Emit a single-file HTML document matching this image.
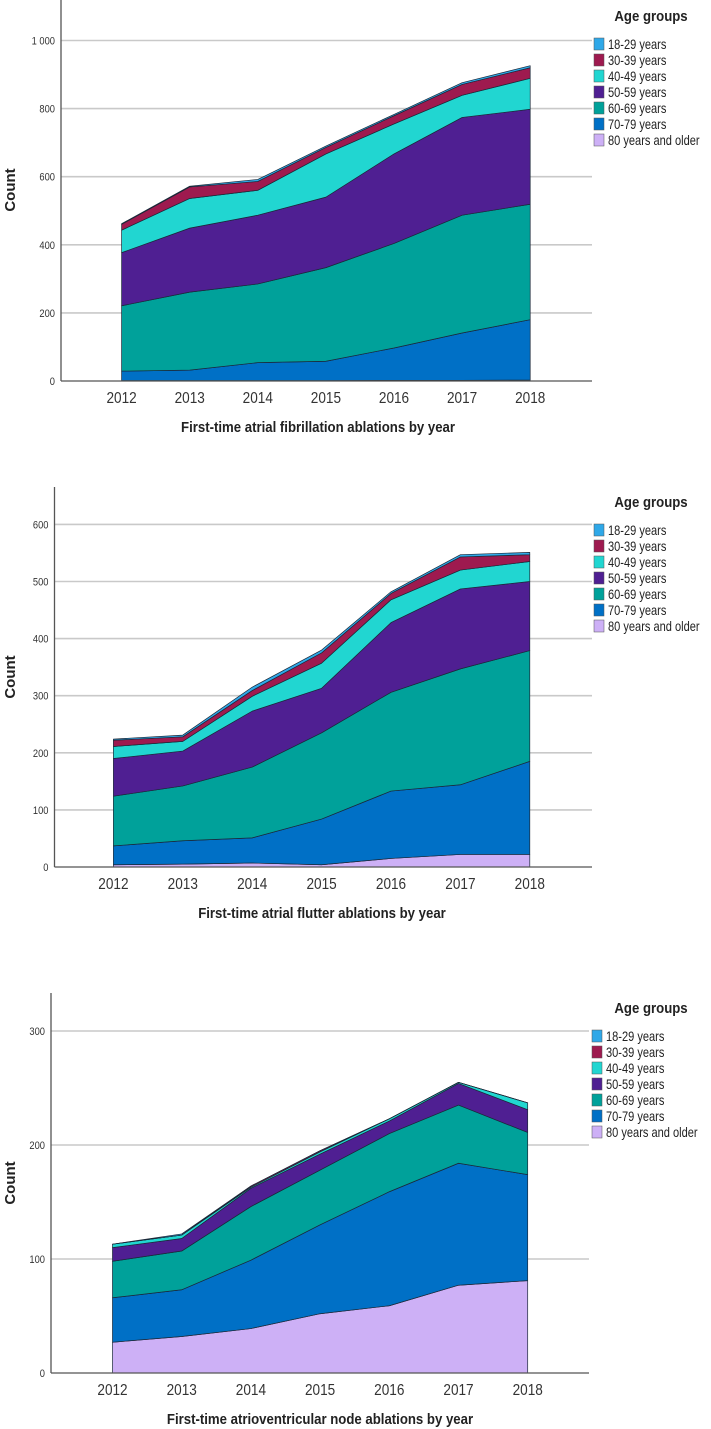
<!DOCTYPE html>
<html><head><meta charset="utf-8">
<style>
html,body{margin:0;padding:0;background:#fff;}
svg{display:block;}
text{font-family:"Liberation Sans Narrow","Liberation Sans",sans-serif;}
</style></head>
<body>
<svg id="page" width="711" height="1429" viewBox="0 0 711 1429" xmlns="http://www.w3.org/2000/svg"></svg>
<script>
const years = ["2012","2013","2014","2015","2016","2017","2018"];
const groupNames = ["80 years and older","70-79 years","60-69 years","50-59 years","40-49 years","30-39 years","18-29 years"];
const groupColors = ["#cdb0f6","#0070c6","#00a19a","#4f1f92","#21d6d1","#9e1a4f","#2fa8e8"];

// Chart 1: atrial fibrillation (bottom group first)
const af80 = [1,1,1,1,2,2,3];
const af70 = [28,31,53,57,95,139,177];
const af60 = [192,229,231,275,307,346,339];
const af50 = [156,188,202,207,263,287,279];
const af40 = [66,87,73,127,88,65,91];
const af30 = [17,34,26,19,24,32,31];
const af18 = [2,2,6,4,4,5,6];
const afTicks = [0,200,400,600,800,1000];
const afTickLabels = ["0","200","400","600","800","1 000"];

// Chart 2: atrial flutter
const fl80 = [4,5,7,4,15,22,22];
const fl70 = [33,41,44,80,118,122,163];
const fl60 = [87,96,124,151,173,203,194];
const fl50 = [66,61,98,78,122,140,121];
const fl40 = [21,17,26,44,40,33,35];
const fl30 = [11,8,10,18,11,23,12];
const fl18 = [2,3,6,5,3,4,4];
const flTicks = [0,100,200,300,400,500,600];
const flTickLabels = ["0","100","200","300","400","500","600"];

// Chart 3: AV node
const av80 = [27,32,39,52,59,77,81];
const av70 = [39,41,60,78,100,107,93];
const av60 = [32,34,47,48,51,51,37];
const av50 = [12,11,16,14,11,19,20];
const av40 = [3,3,1,2,2,1,6];
const av30 = [0,0,1,1,0,0,0];
const av18 = [0,1,0,0,0,0,0];
const avTicks = [0,100,200,300];
const avTickLabels = ["0","100","200","300"];

const NS = "http://www.w3.org/2000/svg";
const svg = document.getElementById("page");
function mk(tag, attrs, parent){
  const e = document.createElementNS(NS, tag);
  for (const k in attrs) e.setAttribute(k, attrs[k]);
  (parent||svg).appendChild(e);
  return e;
}
function narrow(x, y, s){ return "translate(" + x + "," + y + ") scale(" + s + ",1)"; }

function drawChart(cfg){
  const g = mk("g", {});
  
  
  const yScale = v => cfg.y0 - v * cfg.pxPerUnit;
  const xScale = i => cfg.x2012 + i * cfg.xStep;
  cfg.ticks.forEach((t, i) => {
    const y = yScale(t);
    if (t > 0) {
      const gl = mk("line", {x1: cfg.axisX, x2: cfg.right, y1: y, y2: y, stroke: "#c9c9c9", "stroke-width": 1.6}, g);
      
      
    }
    const tl = mk("text", {x: 0, y: 0, "text-anchor": "end", "font-size": 11, fill: "#333", transform: narrow(cfg.axisX - 6, y + 4, 0.85)}, g);
    tl.textContent = cfg.tickLabels[i];
    
    
  });
  const n = years.length;
  let base = new Array(n).fill(0);
  cfg.series.forEach((s, si) => {
    const top = base.map((b, i) => b + s[i]);
    let d = "M" + xScale(0) + "," + yScale(base[0]);
    for (let i = 0; i < n; i++) d += " L" + xScale(i) + "," + yScale(top[i]);
    for (let i = n - 1; i >= 0; i--) d += " L" + xScale(i) + "," + yScale(base[i]);
    d += " Z";
    const p = mk("path", {d: d, fill: groupColors[si], stroke: "#1b2838", "stroke-width": 0.7, "stroke-linejoin": "round"}, g);
    
    
    base = top;
  });
  const ya = mk("line", {x1: cfg.axisX, x2: cfg.axisX, y1: cfg.top, y2: cfg.y0, stroke: "#555", "stroke-width": 1.3}, g);
  
  
  const xa = mk("line", {x1: cfg.axisX, x2: cfg.right, y1: cfg.y0, y2: cfg.y0, stroke: "#555", "stroke-width": 1.3}, g);
  
  
  years.forEach((yr, i) => {
    const t = mk("text", {x: 0, y: 0, "text-anchor": "middle", "font-size": 16, fill: "#333", transform: narrow(xScale(i), cfg.y0 + 22, 0.85)}, g);
    t.textContent = yr;
    
    
  });
  const xt = mk("text", {x: 0, y: 0, "text-anchor": "middle", "font-size": 15, "font-weight": "bold", fill: "#222", transform: narrow(cfg.titleX, cfg.y0 + 51, 0.88)}, g);
  xt.textContent = cfg.title;
  
  
  const yt = mk("text", {x: 0, y: 0, "text-anchor": "middle", "font-size": 15, "font-weight": "bold", fill: "#222", "font-family": "Liberation Sans, sans-serif", transform: "translate(15," + cfg.countY + ") rotate(-90)"}, g);
  yt.textContent = "Count";
  
  
  const lg = mk("g", {}, g);
  
  
  const lt = mk("text", {x: 0, y: 0, "text-anchor": "middle", "font-size": 15, "font-weight": "bold", fill: "#222", transform: narrow(651, cfg.legendY, 0.88)}, lg);
  lt.textContent = "Age groups";
  
  
  for (let k = 0; k < 7; k++) {
    const si = 6 - k;
    const cy = cfg.legendY + 23 + k * 16;
    const r = mk("rect", {x: cfg.swX, y: cy - 6, width: 10, height: 12, fill: groupColors[si], stroke: "#555", "stroke-width": 0.5}, lg);
    
    
    const tx = mk("text", {x: 0, y: 0, "font-size": 13.5, fill: "#222", transform: narrow(cfg.swX + 14, cy + 5, 0.82)}, lg);
    tx.textContent = groupNames[si];
    
    
  }
}

drawChart({name: "af-chart", series: [af80,af70,af60,af50,af40,af30,af18], ticks: afTicks, tickLabels: afTickLabels,
  y0: 381, pxPerUnit: 0.3405, top: 0, axisX: 61, right: 592, x2012: 121.6, xStep: 68.1,
  title: "First-time atrial fibrillation ablations by year", titleX: 318, countY: 190, legendY: 21, swX: 594});
drawChart({name: "flutter-chart", series: [fl80,fl70,fl60,fl50,fl40,fl30,fl18], ticks: flTicks, tickLabels: flTickLabels,
  y0: 867, pxPerUnit: 0.571, top: 487, axisX: 54.5, right: 592, x2012: 113.4, xStep: 69.4,
  title: "First-time atrial flutter ablations by year", titleX: 322, countY: 677, legendY: 507, swX: 594});
drawChart({name: "av-node-chart", series: [av80,av70,av60,av50,av40,av30,av18], ticks: avTicks, tickLabels: avTickLabels,
  y0: 1373, pxPerUnit: 1.14, top: 993, axisX: 51, right: 589, x2012: 112.5, xStep: 69.2,
  title: "First-time atrioventricular node ablations by year", titleX: 320, countY: 1183, legendY: 1013, swX: 592});
</script>
</body></html>
